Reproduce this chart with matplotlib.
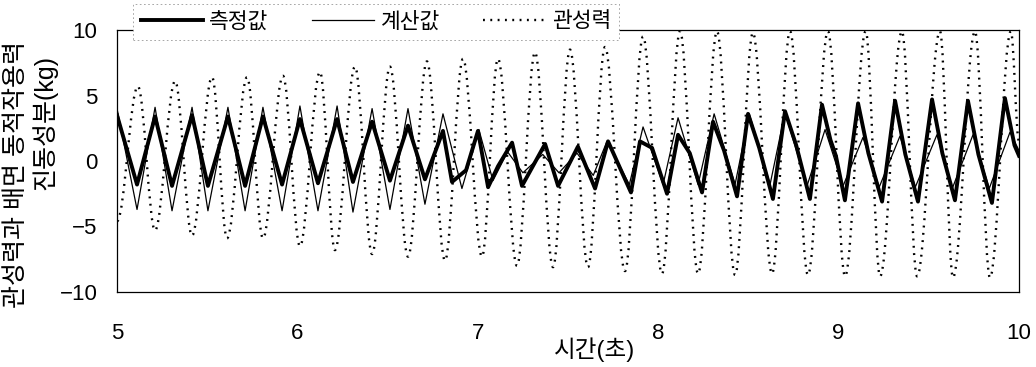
import matplotlib
matplotlib.use("Agg")
import matplotlib.pyplot as plt
from matplotlib.path import Path
from matplotlib.patches import PathPatch

plt.rcParams['font.family'] = ['Liberation Sans', 'Noto Sans CJK KR']
plt.rcParams['axes.unicode_minus'] = True

# ---------------- data ----------------
series_names = ['측정값', '계산값', '관성력']
x_ticks = [5, 6, 7, 8, 9, 10]
y_ticks = [-10, -5, 0, 5, 10]

# measured (측정값)
meas_t = [5.000, 5.111, 5.211, 5.305, 5.416, 5.504, 5.615, 5.710, 5.809, 5.915,
          6.014, 6.114, 6.220, 6.308, 6.414, 6.513, 6.613, 6.707, 6.807, 6.857,
          6.935, 7.001, 7.057, 7.112, 7.190, 7.245, 7.373, 7.445, 7.555, 7.650,
          7.722, 7.849, 7.899, 7.966, 8.049, 8.110, 8.175, 8.243, 8.304, 8.365,
          8.437, 8.498, 8.560, 8.636, 8.703, 8.765, 8.841, 8.908, 8.955, 8.985,
          9.035, 9.108, 9.165, 9.241, 9.313, 9.370, 9.440, 9.518, 9.575, 9.645,
          9.717, 9.775, 9.850, 9.922, 9.975, 10.000]
meas_v = [3.5, -1.8, 3.4, -1.9, 3.5, -1.9, 3.4, -1.9, 3.4, -1.8,
          3.2, -1.7, 3.2, -1.6, 3.0, -1.5, 2.7, -1.4, 2.3, -1.6,
          -0.7, 2.3, -2.0, -0.4, 1.4, -1.9, 1.3, -1.9, 1.1, -2.1,
          1.5, -2.4, 1.5, 1.0, -2.5, 2.0, 0.6, -2.4, 3.0, 0.8,
          -2.7, 3.6, 1.0, -2.9, 3.8, 1.2, -2.9, 4.3, 1.6, 0.4,
          -3.0, 4.4, 0.6, -3.1, 4.6, 0.5, -3.1, 4.7, 0.6, -3.0,
          4.6, 0.5, -3.2, 4.8, 1.2, 0.4]

# calculated (계산값)
calc_t = [5.000, 5.111, 5.211, 5.305, 5.416, 5.504, 5.615, 5.710, 5.809, 5.915,
          6.014, 6.114, 6.220, 6.308, 6.414, 6.513, 6.613, 6.707, 6.807, 6.912,
          7.006, 7.084, 7.165, 7.250, 7.360, 7.450, 7.550, 7.640, 7.716, 7.840,
          7.916, 8.027, 8.110, 8.221, 8.310, 8.426, 8.505, 8.620, 8.703, 8.825,
          8.925, 9.025, 9.135, 9.225, 9.340, 9.425, 9.545, 9.630, 9.745, 9.835,
          9.950, 10.000]
calc_v = [4.0, -3.7, 4.1, -3.8, 4.1, -3.8, 4.1, -3.8, 4.1, -3.8,
          4.2, -3.8, 4.2, -3.9, 4.0, -3.7, 4.0, -3.3, 3.6, -2.1,
          2.4, -1.5, 0.7, -0.9, 0.5, -0.9, 0.6, -1.1, 1.5, -1.8,
          2.6, -1.8, 3.3, -1.8, 3.6, -1.8, 3.6, -1.8, 3.7, -1.9,
          2.4, -1.9, 1.8, -2.0, 1.9, -2.0, 2.0, -2.1, 2.0, -2.1,
          2.2, 0.8]

# inertial force (관성력)
iner_t = [5.000, 5.116, 5.211, 5.322, 5.416, 5.527, 5.610, 5.721, 5.809, 5.920,
          6.014, 6.125, 6.208, 6.319, 6.414, 6.513, 6.613, 6.718, 6.818, 6.918,
          7.023, 7.112, 7.217, 7.317, 7.417, 7.511, 7.611, 7.705, 7.816, 7.916,
          8.021, 8.121, 8.221, 8.326, 8.426, 8.525, 8.631, 8.731, 8.830, 8.941,
          9.036, 9.150, 9.230, 9.351, 9.435, 9.562, 9.634, 9.756, 9.839, 9.955,
          10.000]
iner_v = [-4.6, 5.7, -5.3, 6.1, -5.7, 6.4, -5.9, 6.4, -5.9, 6.5,
          -6.5, 6.8, -6.8, 7.2, -7.1, 7.2, -7.3, 7.6, -7.6, 7.8,
          -7.3, 7.8, -8.0, 8.3, -8.1, 8.5, -8.1, 8.7, -8.4, 9.5,
          -8.6, 9.9, -8.6, 9.9, -8.7, 9.8, -8.6, 9.9, -8.7, 9.9,
          -8.8, 9.9, -8.8, 9.9, -8.8, 9.9, -8.9, 9.9, -8.9, 9.9,
          1.5]

x_label = '시간(초)'
y_label_1 = '관성력과 배면 동적작용력'
y_label_2 = '진동성분(kg)'

# ---------------- figure ----------------
W, H = 1036, 367
fig = plt.figure(figsize=(W / 100, H / 100), dpi=100)
ax_l, ax_r, ax_t, ax_b = 117, 1019, 30, 292
ax = fig.add_axes([ax_l / W, 1 - ax_b / H, (ax_r - ax_l) / W, (ax_b - ax_t) / H])

dot_style = (0, (0.8, 2.3))

h_meas, = ax.plot(meas_t, meas_v, color='black', lw=2.8, solid_joinstyle='round',
                  label=series_names[0], zorder=3)
h_calc, = ax.plot(calc_t, calc_v, color='black', lw=0.9, label=series_names[1], zorder=4)

# inertial force drawn as a smooth curve through the read extremes
verts = [(iner_t[0], iner_v[0])]
codes = [Path.MOVETO]
k = 0.36
for i in range(1, len(iner_t)):
    t0, v0 = iner_t[i - 1], iner_v[i - 1]
    t1, v1 = iner_t[i], iner_v[i]
    dt = t1 - t0
    verts += [(t0 + k * dt, v0), (t1 - k * dt, v1), (t1, v1)]
    codes += [Path.CURVE4, Path.CURVE4, Path.CURVE4]
patch = PathPatch(Path(verts, codes), fill=False, edgecolor='black', lw=1.7,
                  linestyle=dot_style, transform=ax.transData, zorder=2)
ax.add_patch(patch)
h_iner, = ax.plot([], [], color='black', lw=1.7, linestyle=dot_style,
                  label=series_names[2])

ax.set_xlim(5, 10)
ax.set_ylim(-10, 10)
ax.set_xticks(x_ticks)
ax.set_yticks(y_ticks)
ax.tick_params(axis='both', length=0, labelsize=16)
ax.tick_params(axis='y', pad=14)
ax.tick_params(axis='x', pad=22)
for s in ax.spines.values():
    s.set_linewidth(0.9)
    s.set_color('black')

fig.text(595 / W, 1 - 350 / H, x_label, ha='center', va='center', fontsize=17)
fig.text(16 / W, 1 - 175 / H, y_label_1, ha='center', va='center', rotation=90, fontsize=18)
fig.text(45 / W, 1 - 123 / H, y_label_2, ha='center', va='center', rotation=90, fontsize=18)

leg = fig.legend(handles=[h_meas, h_calc, h_iner], loc='lower left',
                 bbox_to_anchor=(133 / W, 1 - 40 / H), bbox_transform=fig.transFigure,
                 ncol=3, fontsize=15.5, handlelength=2.9, handletextpad=0.3,
                 columnspacing=2.0, borderpad=0.35, borderaxespad=0,
                 frameon=True, fancybox=False, framealpha=1)
fr = leg.get_frame()
fr.set_facecolor('white')
fr.set_edgecolor('#999999')
fr.set_linewidth(0.6)
fr.set_linestyle((0, (2, 3)))
leg.set_zorder(10)

fig.savefig('out.png', dpi=100)
